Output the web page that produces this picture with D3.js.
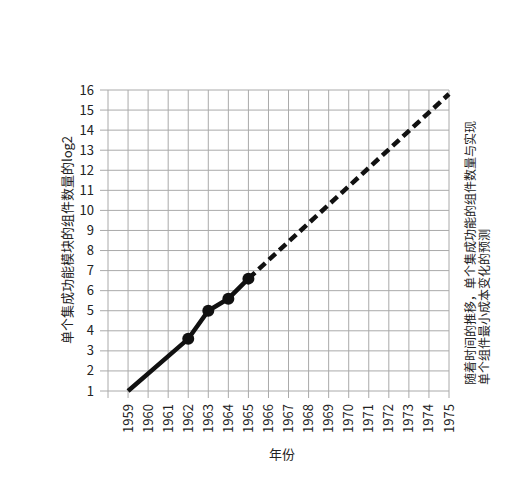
<!DOCTYPE html><html><head><meta charset="utf-8"><script src="https://cdn.jsdelivr.net/npm/d3@7"></script>
<style>body{margin:0;background:#fff}text{font-family:"Noto Sans CJK SC","Liberation Sans",sans-serif}</style></head><body>
<svg id="c" width="530" height="489"></svg>
<script>
const actualYears=[1959,1962,1963,1964,1965];
const actualValues=[1,3.6,5,5.6,6.6];
const markerYears=[1962,1963,1964,1965];
const projYears=[1965,1975];
const projValues=[6.6,15.8];
const xTicks=d3.range(1959,1976);
const yTicks=d3.range(1,17);
const svg=d3.select("#c");
const x=d3.scaleLinear().domain([1958,1975]).range([108,449]);
const y=d3.scaleLinear().domain([1,16]).range([391,90]);
const g=svg.append("g");
// grid
g.selectAll(".v").data([1958,...xTicks]).join("line").attr("x1",d=>x(d)).attr("x2",d=>x(d)).attr("y1",90).attr("y2",398).attr("stroke","#aaa").attr("stroke-width",1);
g.selectAll(".h").data(yTicks).join("line").attr("x1",100).attr("x2",449).attr("y1",d=>y(d)).attr("y2",d=>y(d)).attr("stroke","#aaa").attr("stroke-width",1);
g.selectAll(".yl").data(yTicks).join("text").attr("x",94).attr("y",d=>y(d)+4.5).attr("text-anchor","end").attr("font-size",13).attr("fill","#222").text(d=>d);
g.selectAll(".xl").data(xTicks).join("text").attr("transform",d=>`translate(${x(d)+4.5},404) rotate(-90)`).attr("text-anchor","end").attr("font-size",13).attr("fill","#222").text(d=>d);
const line=d3.line().x(d=>x(d[0])).y(d=>y(d[1]));
g.append("path").attr("d",line(actualYears.map((d,i)=>[d,actualValues[i]]))).attr("fill","none").attr("stroke","#111").attr("stroke-width",4.5);
g.append("path").attr("d",line(projYears.map((d,i)=>[d,projValues[i]]))).attr("fill","none").attr("stroke","#111").attr("stroke-width",4.5).attr("stroke-dasharray","9,5");
g.selectAll("circle").data(markerYears).join("circle").attr("cx",d=>x(d)).attr("cy",d=>y(actualValues[actualYears.indexOf(d)])).attr("r",6).attr("fill","#111");
svg.append("text").attr("transform","translate(72,240) rotate(-90)").attr("text-anchor","middle").attr("font-size",13).attr("fill","#222").text("单个集成功能模块的组件数量的log2");
svg.append("text").attr("x",282).attr("y",459).attr("text-anchor","middle").attr("font-size",13).attr("fill","#222").text("年份");
svg.append("text").attr("transform","translate(475,385) rotate(-90)").attr("font-size",12).attr("fill","#222").text("随着时间的推移，单个集成功能的组件数量与实现");
svg.append("text").attr("transform","translate(489,385) rotate(-90)").attr("font-size",12).attr("fill","#222").text("单个组件最小成本变化的预测");
</script></body></html>
